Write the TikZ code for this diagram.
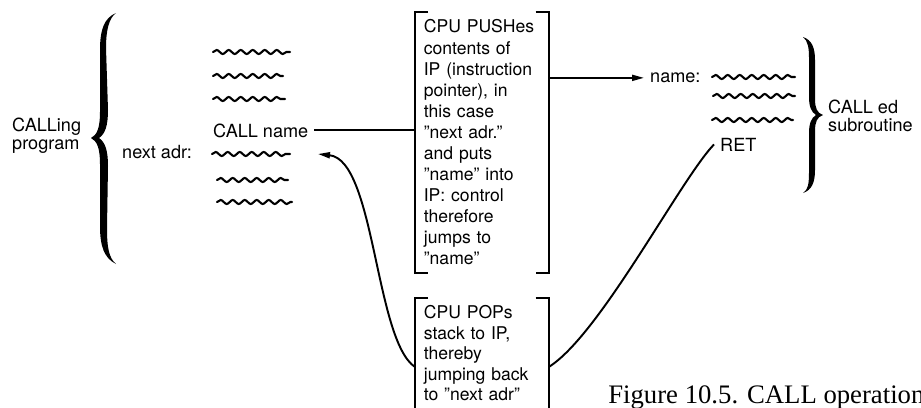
\documentclass[tikz,border=0pt]{standalone}
\usepackage{fontspec}
\setmainfont{TeX Gyre Heros}
\newfontfamily\capfont{Liberation Serif}
\usetikzlibrary{arrows.meta,decorations.pathmorphing,calc}

\begin{document}
\begin{tikzpicture}[
  x=0.2mm, y=-0.2mm,
  >={Triangle[length=2.4mm,width=1.2mm]},
  every node/.style={font=\fontsize{10.3}{12}\selectfont},
  textbox/.style={align=left, text width=23.2mm, inner xsep=1.7mm,
                  inner ysep=1.5mm, anchor=north west,
                  font=\fontsize{10}{12}\selectfont},
  bracket/.style={line width=1.2pt},
  link/.style={line width=1.1pt},
  squiggle/.style={line width=1.2pt, line cap=round, decorate,
                   decoration={snake, amplitude=0.4mm, segment length=2.4mm}}
]
\useasboundingbox (0,0) rectangle (921,407);

% calling program
\node (prog) [anchor=west, align=left, font=\fontsize{10.3}{10.3}\selectfont] at (6,136) {CALLing\\program};
\fill (116,13) .. controls (104,18) and (100,30) .. (100,50) -- (100,112)
  .. controls (100,128) and (97,135) .. (91,138)
  .. controls (97,141) and (100,148) .. (100,164) -- (100,226)
  .. controls (100,246) and (104,258) .. (116,264)
  .. controls (109,258) and (107,248) .. (107,228) -- (108,166)
  .. controls (108,150) and (105,142) .. (99,138)
  .. controls (105,134) and (108,126) .. (108,110) -- (106,48)
  .. controls (106,30) and (109,18) .. (116,13) -- cycle;

\draw[squiggle] (213,52) -- (290,52);
\draw[squiggle] (213,76) -- (283,76);
\draw[squiggle] (213,99) -- (285,99);
\node (callname) [anchor=base west] at (207,137) {CALL name};
\node (nextadr) [anchor=base west] at (116,158) {next adr:};
\draw[squiggle] (212,154) -- (290,154);
\draw[squiggle] (217,180) -- (288,180);
\draw[squiggle] (217,202) -- (292,202);

% the two notes
\node (push) [textbox] at (415,12) {CPU PUSHes\\ contents of\\ IP (instruction\\ pointer), in\\ this case\\ ''next adr.''\\ and puts\\ ''name'' into\\ IP: control\\ therefore\\ jumps to\\ ''name''};
\node (pop) [textbox, font=\fontsize{10}{11.6}\selectfont] at (415,298) {CPU POPs\\ stack to IP,\\ thereby\\ jumping back\\ to ''next adr''};

\draw[bracket] ([xshift=2.6mm]push.north west) -- (push.north west) -- (push.south west) -- ([xshift=2.6mm]push.south west);
\draw[bracket] ([xshift=-2.6mm]push.north east) -- (push.north east) -- (push.south east) -- ([xshift=-2.6mm]push.south east);
\draw[bracket] ([xshift=2.6mm]pop.north west) -- (pop.north west) -- ([yshift=-10mm]pop.south west);
\draw[bracket] ([xshift=-2.6mm]pop.north east) -- (pop.north east) -- ([yshift=-10mm]pop.south east);

% subroutine
\node (namelbl) [anchor=base west] at (644,82.6) {name:};
\draw[squiggle] (712,77) -- (795,77);
\draw[squiggle] (713,96) -- (795,96);
\draw[squiggle] (712,120) -- (793,120);
\node (ret) [anchor=base west] at (714,151) {RET};
\fill (803,37) .. controls (812,40) and (815,48) .. (815,60) -- (815,99)
  .. controls (815,108) and (817,113) .. (823,115)
  .. controls (817,117) and (815,122) .. (815,131) -- (815,170)
  .. controls (815,182) and (812,190) .. (803,193)
  .. controls (808,190) and (809,184) .. (809,172) -- (809,133)
  .. controls (809,124) and (811,118) .. (816,115)
  .. controls (811,112) and (809,106) .. (809,97) -- (809,58)
  .. controls (809,48) and (808,41) .. (803,37) -- cycle;
\node (sub) [anchor=west, align=left, font=\fontsize{10.3}{10.5}\selectfont] at (822,116) {CALL ed\\ subroutine};

% connectors
\coordinate (back) at (318,154);
\draw[link] (callname.east) -- (callname.east -| push.west);
\draw[link,->] (push.east |- namelbl.west) -- (namelbl.west);
\draw[link] (ret.west) .. controls (680,180) and (600,335) .. ([yshift=-13.8mm]pop.north east);
\draw[link,->] ([yshift=-13.8mm]pop.north west) .. controls (375,340) and (375,160) .. (back);

\node (caption) [anchor=base west, inner sep=0pt, font=\capfont\fontsize{15.2}{17}\selectfont] at (608,403) {Figure 10.5. CALL operation};
\end{tikzpicture}
\end{document}
